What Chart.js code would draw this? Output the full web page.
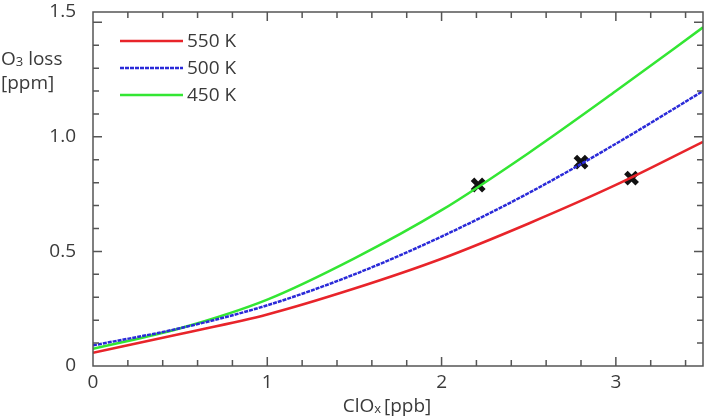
<!DOCTYPE html>
<html>
<head>
<meta charset="utf-8">
<script src="https://cdn.jsdelivr.net/npm/chart.js@4.4.1/dist/chart.umd.min.js"></script>
<style>
  html, body { margin: 0; padding: 0; background: #fff; }
  #wrap { width: 711px; height: 420px; position: relative; }
</style>
</head>
<body>
<div id="wrap"><canvas id="lossChart"></canvas></div>
<script>
// O3 loss vs ClOx, three potential temperatures
const clox = [0, 0.5, 1, 1.5, 2, 2.5, 3, 3.5];
const loss550 = [0.058, 0.14, 0.225, 0.338, 0.468, 0.622, 0.79, 0.978];
const loss500 = [0.09, 0.165, 0.265, 0.40, 0.565, 0.755, 0.97, 1.20];
const loss450 = [0.075, 0.165, 0.29, 0.47, 0.68, 0.93, 1.2, 1.478];
const seriesNames = ['550 K', '500 K', '450 K'];
const markX = [2.21, 2.8, 3.09];
const markY = [0.79, 0.89, 0.82];

const FONT = "'Open Sans', 'DejaVu Sans', sans-serif";
const FS = 19;
const axisGrey = '#555';
const textGrey = '#3a3a3a';

function pts(xs, ys) {
    return xs.map((x, i) => ({ x: x, y: ys[i] }));
}

// label overhang would push the plot area in, drop it
function noOverhang(s) {
    s.paddingTop = 0; s.paddingBottom = 0;
    s.paddingLeft = 0; s.paddingRight = 0;
}

// ticks on all four sides (inside), frame, legend and axis titles
const decor = {
    id: 'decor',
    afterDraw(chart) {
        const ctx = chart.ctx;
        const a = chart.chartArea;
        const xs = chart.scales.x, ys = chart.scales.y;
        ctx.save();
        ctx.strokeStyle = axisGrey;
        ctx.lineWidth = 1.5;
        ctx.strokeRect(a.left, a.top, a.right - a.left, a.bottom - a.top);

        for (let i = 1; i <= 17; i++) {
            const px = xs.getPixelForValue(i * 0.2);
            const len = (i % 5 === 0) ? 9 : 6;
            ctx.beginPath();
            ctx.moveTo(px, a.bottom); ctx.lineTo(px, a.bottom - len);
            ctx.moveTo(px, a.top); ctx.lineTo(px, a.top + len);
            ctx.stroke();
        }
        for (let i = 1; i <= 15; i++) {
            const py = ys.getPixelForValue(i * 0.1);
            const len = (i % 5 === 0) ? 9 : 6;
            ctx.beginPath();
            ctx.moveTo(a.left, py); ctx.lineTo(a.left + len, py);
            ctx.moveTo(a.right, py); ctx.lineTo(a.right - len, py);
            ctx.stroke();
        }

        // legend
        const ds = chart.data.datasets;
        ctx.font = FS + 'px ' + FONT;
        ctx.textBaseline = 'middle';
        for (let i = 0; i < 3; i++) {
            const y = 41 + i * 27;
            ctx.strokeStyle = ds[i].borderColor;
            ctx.lineWidth = 2.5;
            ctx.setLineDash(ds[i].borderDash || []);
            ctx.beginPath();
            ctx.moveTo(120, y); ctx.lineTo(183, y);
            ctx.stroke();
            ctx.setLineDash([]);
            ctx.fillStyle = textGrey;
            ctx.textAlign = 'left';
            ctx.fillText(ds[i].label, 187, y + 1);
        }

        // y title
        ctx.fillStyle = textGrey;
        ctx.textAlign = 'left';
        ctx.textBaseline = 'alphabetic';
        ctx.font = FS + 'px ' + FONT;
        let x = 1;
        ctx.fillText('O', x, 65);
        x += ctx.measureText('O').width;
        ctx.font = '13px ' + FONT;
        ctx.fillText('3', x, 66);
        x += ctx.measureText('3').width;
        ctx.font = FS + 'px ' + FONT;
        ctx.fillText(' loss', x, 65);
        ctx.fillText('[ppm]', 1, 89);

        // x title
        ctx.font = FS + 'px ' + FONT;
        const w1 = ctx.measureText('ClO').width;
        ctx.font = '13px ' + FONT;
        const w2 = ctx.measureText('x').width;
        ctx.font = FS + 'px ' + FONT;
        const w3 = ctx.measureText('[ppb]').width;
        let sx = 387 - (w1 + w2 + 3 + w3) / 2;
        ctx.fillText('ClO', sx, 412);
        sx += w1;
        ctx.font = '13px ' + FONT;
        ctx.fillText('x', sx, 413);
        sx += w2 + 3;
        ctx.font = FS + 'px ' + FONT;
        ctx.fillText('[ppb]', sx, 412);
        ctx.restore();
    }
};

new Chart(document.getElementById('lossChart'), {
    type: 'line',
    data: {
        datasets: [
            { label: seriesNames[0], data: pts(clox, loss550), borderColor: '#e8242a', borderWidth: 2.5 },
            { label: seriesNames[1], data: pts(clox, loss500), borderColor: '#2a2ad8', borderWidth: 2.5, borderDash: [4, 1] },
            { label: seriesNames[2], data: pts(clox, loss450), borderColor: '#33e633', borderWidth: 2.5 },
            {
                label: 'marks', type: 'scatter', data: pts(markX, markY), showLine: false,
                pointStyle: 'crossRot', pointRadius: 8, borderColor: '#111', borderWidth: 5
            }
        ]
    },
    options: {
        responsive: true,
        maintainAspectRatio: false,
        animation: false,
        cubicInterpolationMode: 'monotone',
        elements: { point: { radius: 0 } },
        layout: { autoPadding: false, padding: { top: 12, right: 8, left: 0, bottom: 0 } },
        plugins: { legend: { display: false }, tooltip: { enabled: false } },
        scales: {
            x: {
                type: 'linear', min: 0, max: 3.5,
                grid: { display: false },
                border: { display: false },
                ticks: {
                    stepSize: 1, color: textGrey, padding: -3,
                    font: { family: FONT, size: FS },
                    callback: v => Number.isInteger(v) ? String(v) : ''
                },
                afterFit: s => { s.height = 54; noOverhang(s); }
            },
            y: {
                min: 0, max: 1.545,
                grid: { display: false },
                border: { display: false },
                ticks: {
                    stepSize: 0.5, color: textGrey, padding: 9,
                    font: { family: FONT, size: FS },
                    callback: v => v === 0 ? '0' : v.toFixed(1)
                },
                afterFit: s => { s.width = 93; noOverhang(s); }
            }
        }
    },
    plugins: [decor]
});
</script>
</body>
</html>
